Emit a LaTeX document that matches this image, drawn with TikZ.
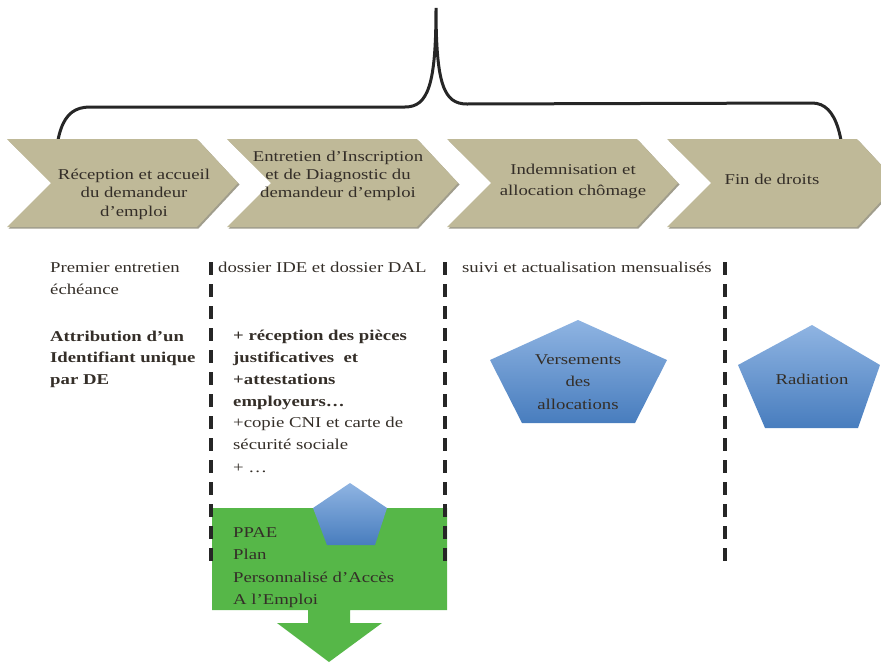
\documentclass[tikz,border=0pt]{standalone}
\usepackage{fontspec}
\setmainfont{Liberation Serif}[FakeStretch=1.25]
\definecolor{khaki}{RGB}{191,185,152}
\definecolor{khakishade}{RGB}{160,157,140}
\definecolor{txt}{RGB}{52,46,40}
\definecolor{bluetop}{RGB}{143,180,226}
\definecolor{bluebot}{RGB}{72,125,190}
\definecolor{ppaegreen}{RGB}{86,183,72}
\tikzset{
  chevfill/.style={fill=khaki},
  chevshade/.style={fill=khakishade},
  chevtext/.style={text=txt, align=center, inner sep=0pt, anchor=base},
  coltext/.style={text=txt, align=left, inner sep=0pt, anchor=base west},
  pentagon/.style={top color=bluetop, bottom color=bluebot},
  sepline/.style={line width=3.5pt, black!85, dash pattern=on 13pt off 9pt},
  bracepath/.style={line width=3pt, black!85, line cap=round},
  f15/.style={font=\fontsize{15}{#1}\selectfont},
}
\begin{document}
\begin{tikzpicture}[x=1pt,y=-1pt]
\useasboundingbox (0,0) rectangle (881,664);
\clip (0,0) rectangle (881,664);
% brace
\coordinate (bl) at (54,203);
\coordinate (bpeak) at (436,8);
\coordinate (br) at (845,198);
\draw[bracepath] (bl) .. controls (54,135) and (60,107) .. (90,107)
  -- (405,107) .. controls (428,107) and (436,85) .. (bpeak)
  .. controls (436,85) and (444,104) .. (467,104)
  -- (812,103) .. controls (838,103) and (845,140) .. (br);
% chevrons
\foreach \x in {7,227,447,667}{
  \fill[chevshade] (\x+1.5,140.5) -- (\x+191.5,140.5) -- (\x+232.5,184.5) -- (\x+191.5,228.5) -- (\x+1.5,228.5) -- (\x+46.5,184.5) -- cycle;
  \fill[chevfill] (\x,139) -- (\x+190,139) -- (\x+231,183) -- (\x+190,227) -- (\x,227) -- (\x+44,183) -- cycle;
}
% (anchor base = baseline of the last line)
\node[chevtext, f15=18.5] (c1) at (134,216) {Réception et accueil\\du demandeur\\d’emploi};
\node[chevtext, f15=18] (c2) at (338,197) {Entretien d’Inscription\\et de Diagnostic du\\demandeur d’emploi};
\node[chevtext, f15=21.7] (c3) at (573,195.7) {Indemnisation et\\allocation chômage};
\node[chevtext, f15=18] (c4) at (772,184) {Fin de droits};
% column texts
\node[coltext, f15=22] (col1a) at (50,294) {Premier entretien\\échéance};
\node[coltext, f15=21.5] (col1b) at (50,384) {\bfseries Attribution d’un\\\bfseries Identifiant unique\\\bfseries par DE};
\node[coltext, f15=22] (col2a) at (218,272) {dossier IDE et dossier DAL};
\node[coltext, f15=21.7] (col2b) at (233,406) {\bfseries + réception des pièces\\\bfseries justificatives~ et\\\bfseries +attestations\\\bfseries employeurs…};
\node[coltext, f15=22.5] (col2c) at (233,472) {+copie CNI et carte de\\sécurité sociale\\+ …};
\node[coltext, f15=22] (col3) at (462,272) {suivi et actualisation mensualisés};
% pentagons
\shade[pentagon] (578,320) -- (667,360) -- (635,423) -- (522,423) -- (490,360) -- cycle;
\node[chevtext, f15=22.5] (vers) at (578,409) {Versements\\des\\allocations};
\shade[pentagon] (812,325) -- (880,365) -- (858,428) -- (765,428) -- (738,365) -- cycle;
\node[chevtext, f15=22] (rad) at (812,384) {Radiation};
% PPAE green block with arrow
\fill[ppaegreen] (212,508) -- (447,508) -- (447,610) -- (350,610) -- (350,623) -- (382,623)
  -- (329,662) -- (277,623) -- (308,623) -- (308,610) -- (212,610) -- cycle;
\shade[pentagon] (350,483) -- (387,508) -- (375,545) -- (327,545) -- (313,508) -- cycle;
\node[coltext, f15=22.5] (ppae) at (233,604.5) {PPAE\\Plan\\Personnalisé d’Accès\\A l’Emploi};
% separators
\coordinate (s1t) at (211,262); \coordinate (s1b) at (211,565);
\coordinate (s2t) at (445,262); \coordinate (s2b) at (445,567);
\coordinate (s3t) at (725,262); \coordinate (s3b) at (725,567);
\draw[sepline] (s1t) -- (s1b);
\draw[sepline] (s2t) -- (s2b);
\draw[sepline] (s3t) -- (s3b);
\end{tikzpicture}
\end{document}
